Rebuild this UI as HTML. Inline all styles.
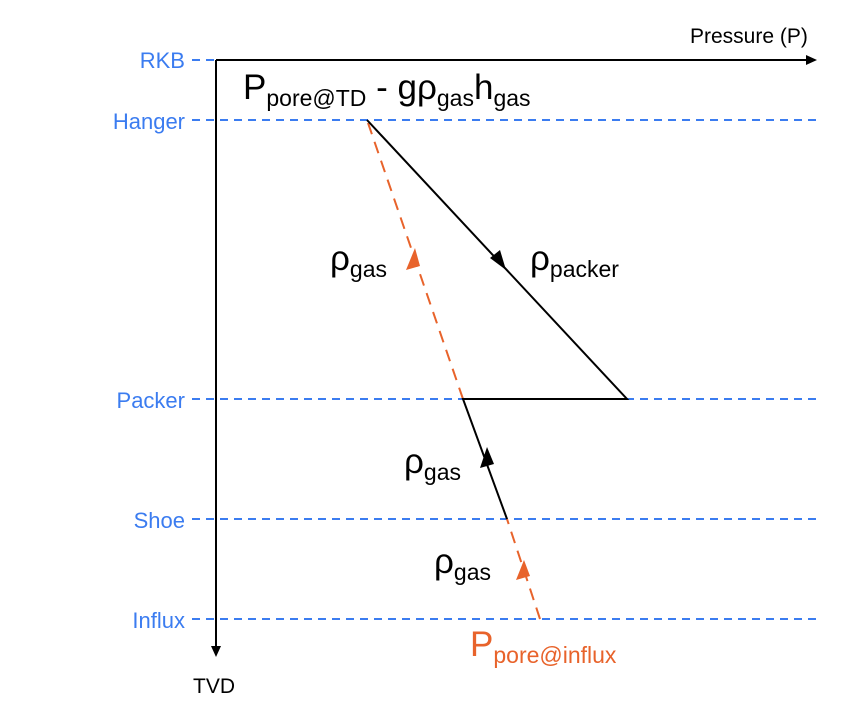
<!DOCTYPE html>
<html><head><meta charset="utf-8"><style>
html,body{margin:0;padding:0;background:#fff;}
svg{display:block;font-family:"Liberation Sans",sans-serif;}
</style></head><body>
<svg width="862" height="720" viewBox="0 0 862 720" xmlns="http://www.w3.org/2000/svg">
<g stroke="#3b7cf0" stroke-width="2" stroke-dasharray="8,6">
<line x1="192" y1="60" x2="216" y2="60"/>
<line x1="192" y1="120" x2="816" y2="120"/>
<line x1="192" y1="399" x2="816" y2="399"/>
<line x1="192" y1="519" x2="816" y2="519"/>
<line x1="192" y1="619" x2="816" y2="619"/>
</g>
<g fill="#3b7cf0" font-size="22" text-anchor="end">
<text x="185" y="68">RKB</text>
<text x="185" y="129">Hanger</text>
<text x="185" y="408">Packer</text>
<text x="185" y="528">Shoe</text>
<text x="185" y="628">Influx</text>
</g>
<line x1="216" y1="60" x2="216" y2="648" stroke="#000" stroke-width="2"/>
<path d="M211,646 L216,657 L221,646 z" fill="#000"/>
<line x1="216" y1="60" x2="808" y2="60" stroke="#000" stroke-width="2"/>
<path d="M806,55 L817,60 L806,65 z" fill="#000"/>
<text x="193" y="693" font-size="21">TVD</text>
<text x="690" y="43" font-size="21">Pressure (P)</text>
<line x1="463" y1="399" x2="367" y2="120" stroke="#e8632b" stroke-width="2" stroke-dasharray="12,8"/>
<line x1="540" y1="619" x2="507" y2="519" stroke="#e8632b" stroke-width="2" stroke-dasharray="12,8"/>
<path d="M415,248 L406,270 L420,266 z" fill="#e8632b"/>
<path d="M524,560 L516,580 L530,576 z" fill="#e8632b"/>
<polyline points="367,120 627,399 463,399 507,519" fill="none" stroke="#000" stroke-width="2"/>
<path d="M506,270 L490,258 L500,250 z" fill="#000"/>
<path d="M487,447 L480,468 L494,464 z" fill="#000"/>
<g font-size="35" fill="#000">
<text x="243" y="99">P<tspan font-size="23" dy="7">pore@TD</tspan><tspan dy="-7"> - gρ</tspan><tspan font-size="23" dy="7">gas</tspan><tspan dy="-7">h</tspan><tspan font-size="23" dy="7">gas</tspan></text>
<text x="330" y="270">ρ<tspan font-size="23" dy="7">gas</tspan></text>
<text x="530" y="270">ρ<tspan font-size="23" dy="7">packer</tspan></text>
<text x="404" y="473">ρ<tspan font-size="23" dy="7">gas</tspan></text>
<text x="434" y="573">ρ<tspan font-size="23" dy="7">gas</tspan></text>
</g>
<text x="470" y="656" font-size="35" fill="#e8632b">P<tspan font-size="23" dy="7">pore@influx</tspan></text>
</svg>
</body></html>
